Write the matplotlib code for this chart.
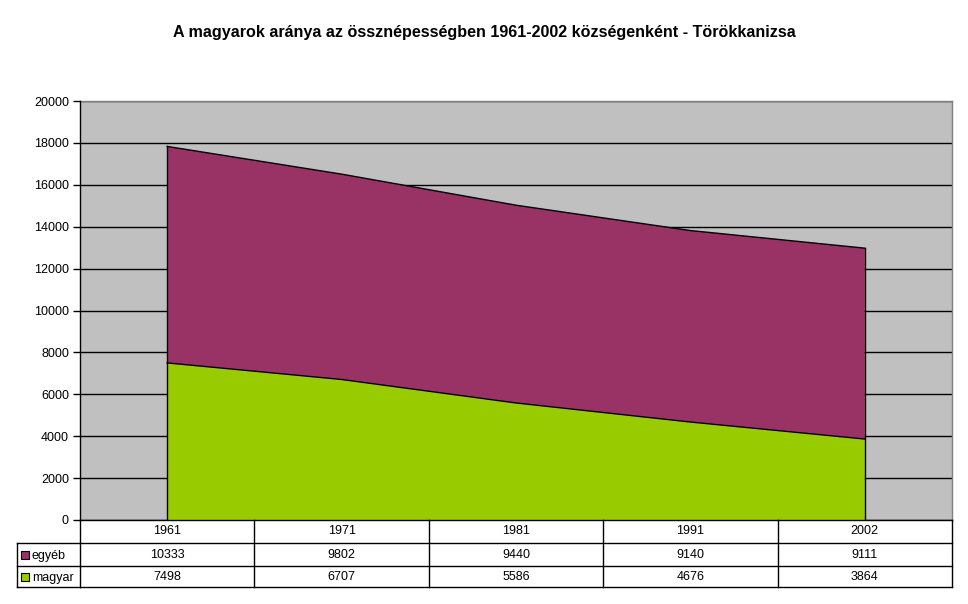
import matplotlib
matplotlib.use("Agg")
import matplotlib.pyplot as plt
import matplotlib.transforms as mtransforms
from matplotlib.patches import Rectangle
from matplotlib.lines import Line2D

years = ["1961", "1971", "1981", "1991", "2002"]
magyar = [7498, 6707, 5586, 4676, 3864]
egyeb = [10333, 9802, 9440, 9140, 9111]
series_names = ["egyéb", "magyar"]
yticks = [0, 2000, 4000, 6000, 8000, 10000, 12000, 14000, 16000, 18000, 20000]

col_egyeb = "#993366"
col_magyar = "#99CC00"
bg = "#C0C0C0"

plt.rcParams['font.family'] = ['Liberation Sans', 'DejaVu Sans']

W, H = 968, 604
fig = plt.figure(figsize=(W / 100, H / 100), dpi=100)
fig.patch.set_facecolor("white")

def fx(px):
    return px / W

def fy(py):
    return 1 - py / H

ax = fig.add_axes([fx(80), fy(520), fx(952) - fx(80), fy(101) - fy(520)])
ax.set_facecolor(bg)

x = list(range(len(years)))
total = [m + e for m, e in zip(magyar, egyeb)]
ax.fill_between(x, 0, magyar, facecolor=col_magyar, edgecolor="none", zorder=3)
ax.fill_between(x, magyar, total, facecolor=col_egyeb, edgecolor="none", zorder=3)
# outlines
ax.plot(x, magyar, color="black", lw=1, zorder=4)
ax.plot(x, total, color="black", lw=1, zorder=4)
ax.plot([x[0], x[0]], [0, total[0]], color="black", lw=1, zorder=4)
ax.plot([x[-1], x[-1]], [0, total[-1]], color="black", lw=1, zorder=4)

ax.set_xlim(-0.5, len(years) - 0.5)
ax.set_ylim(0, 20000)
ax.set_yticks(yticks)
ax.set_yticklabels([str(v) for v in yticks], fontsize=9)
ax.set_xticks([])
ax.yaxis.grid(True, color="black", lw=1, zorder=1)
ax.set_axisbelow(True)
ax.tick_params(axis="y", direction="out", length=5, width=1, color="black", pad=3)
for s in ["top", "right"]:
    ax.spines[s].set_color("#808080")
    ax.spines[s].set_linewidth(1)
for s in ["left", "bottom"]:
    ax.spines[s].set_color("black")
    ax.spines[s].set_linewidth(1)
    ax.spines[s].set_zorder(5)

fig.text(0.5, fy(32), "A magyarok aránya az össznépességben 1961-2002 községenként - Törökkanizsa",
         ha="center", va="center", fontsize=11.6, fontweight="bold")

# data table
trans = mtransforms.blended_transform_factory(ax.transData, fig.transFigure)
row_y = [fy(520), fy(543), fy(566), fy(587)]
edges = [i - 0.5 for i in range(len(years) + 1)]
lk = dict(color="black", lw=1, transform=trans, clip_on=False)
fig.add_artist(Line2D([edges[0], edges[-1]], [row_y[1], row_y[1]], **lk))
legL = fx(17)
lkf = dict(color="black", lw=1, transform=fig.transFigure, clip_on=False)
for yy in row_y[1:]:
    fig.add_artist(Line2D([legL, fx(80)], [yy, yy], **lkf))
fig.add_artist(Line2D([legL, legL], [row_y[1], row_y[3]], **lkf))
for yy in row_y[2:]:
    fig.add_artist(Line2D([edges[0], edges[-1]], [yy, yy], **lk))
for e in edges:
    fig.add_artist(Line2D([e, e], [row_y[0], row_y[3]], **lk))

for i, yr in enumerate(years):
    fig.text(i, (row_y[0] + row_y[1]) / 2, yr, transform=trans, ha="center", va="center", fontsize=9)
rows = [egyeb, magyar]
cols = [col_egyeb, col_magyar]
for r, (vals, name, c) in enumerate(zip(rows, series_names, cols)):
    yc = (row_y[r + 1] + row_y[r + 2]) / 2
    for i, v in enumerate(vals):
        fig.text(i, yc, str(v), transform=trans, ha="center", va="center", fontsize=9)
    fig.add_artist(Rectangle((fx(21), yc - 4 / H), 8 / W, 8 / H, facecolor=c,
                             edgecolor="black", lw=0.8, transform=fig.transFigure))
    fig.text(fx(32), yc, name, ha="left", va="center_baseline", fontsize=9)

fig.savefig("out.png", dpi=100)
